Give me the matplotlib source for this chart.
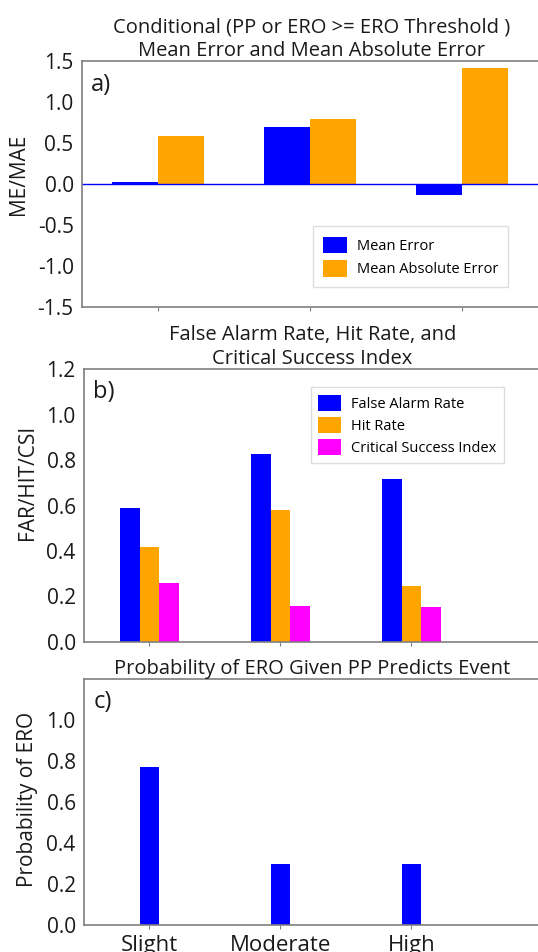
import matplotlib
matplotlib.use("Agg")
import matplotlib.pyplot as plt
import numpy as np

plt.rcParams['font.family'] = ['Open Sans', 'DejaVu Sans']

categories = ["Slight", "Moderate", "High"]

# panel a: conditional mean error / mean absolute error
mean_error = [0.02, 0.69, -0.14]
mean_abs_error = [0.59, 0.79, 1.41]

# panel b: contingency scores
false_alarm_rate = [0.59, 0.825, 0.717]
hit_rate = [0.418, 0.58, 0.248]
csi = [0.26, 0.157, 0.153]

# panel c: probability of ERO given PP predicts event
prob_ero = [0.771, 0.30, 0.30]

BLUE = "#0000FF"
ORANGE = "#FFA500"
MAGENTA = "#FF00FF"
SPINE = "#7f7f7f"
TEXT = "#1a1a1a"

W, H = 538, 952
fig = plt.figure(figsize=(W / 100, H / 100), dpi=100)


def px_axes(left, top, right, bottom):
    return fig.add_axes([left / W, 1 - bottom / H, (right - left) / W, (bottom - top) / H])


def style(ax):
    for s in ax.spines.values():
        s.set_color(SPINE)
        s.set_linewidth(1.2)
    ax.tick_params(axis='y', length=0, labelsize=15, pad=6, labelcolor=TEXT)
    ax.tick_params(axis='x', length=3, color=SPINE, labelsize=16, pad=4, labelcolor=TEXT)


def legend(ax, **kw):
    return ax.legend(fontsize=10.5, handlelength=1.6, handleheight=1.35,
                     frameon=True, fancybox=False, edgecolor="#dddddd",
                     framealpha=1, handletextpad=0.7, **kw)


x = np.arange(len(categories))

# ---- a) ----
ax1 = px_axes(82, 61, 541, 307)
ax1.bar(x - 0.15, mean_error, 0.3, color=BLUE, label="Mean Error")
ax1.bar(x + 0.15, mean_abs_error, 0.3, color=ORANGE, label="Mean Absolute Error")
ax1.axhline(0, color=BLUE, lw=1)
ax1.set_xlim(-0.5, 2.52)
ax1.set_ylim(-1.5, 1.5)
yt = np.arange(-1.5, 1.51, 0.5)
ax1.set_yticks(yt)
ax1.set_yticklabels([f"{v:.1f}" for v in yt])
ax1.set_xticks(x)
ax1.set_xticklabels([])
ax1.set_ylabel("ME/MAE", fontsize=15, color=TEXT)
ax1.yaxis.set_label_coords(-0.115, 0.54)
ax1.set_title("Conditional (PP or ERO >= ERO Threshold )\nMean Error and Mean Absolute Error",
              fontsize=14.5, pad=3, linespacing=1.2, color=TEXT)
ax1.text(0.02, 0.95, "a)", transform=ax1.transAxes, fontsize=17, va="top", color=TEXT)
style(ax1)
legend(ax1, loc="lower right", bbox_to_anchor=(0.945, 0.05), borderpad=0.7, labelspacing=0.45)

# ---- b) ----
ax2 = px_axes(84, 369, 541, 642)
ax2.bar(x - 0.15, false_alarm_rate, 0.15, color=BLUE, label="False Alarm Rate")
ax2.bar(x, hit_rate, 0.15, color=ORANGE, label="Hit Rate")
ax2.bar(x + 0.15, csi, 0.15, color=MAGENTA, label="Critical Success Index")
ax2.set_xlim(-0.5, 2.99)
ax2.set_ylim(0, 1.2)
yt = np.arange(0, 1.21, 0.2)
ax2.set_yticks(yt)
ax2.set_yticklabels([f"{v:.1f}" for v in yt])
ax2.set_xticks(x)
ax2.set_xticklabels([])
ax2.set_ylabel("FAR/HIT/CSI", fontsize=15, color=TEXT)
ax2.yaxis.set_label_coords(-0.1, 0.585)
ax2.set_title("False Alarm Rate, Hit Rate, and\nCritical Success Index",
              fontsize=14.5, pad=-5, linespacing=1.3, color=TEXT)
ax2.text(0.02, 0.96, "b)", transform=ax2.transAxes, fontsize=17, va="top", color=TEXT)
style(ax2)
legend(ax2, loc="upper right", bbox_to_anchor=(0.935, 0.96), borderpad=0.5, labelspacing=0.35)

# ---- c) ----
ax3 = px_axes(84, 679, 541, 925)
ax3.bar(x, prob_ero, 0.15, color=BLUE)
ax3.set_xlim(-0.5, 2.99)
ax3.set_ylim(0, 1.2)
yt = np.arange(0, 1.01, 0.2)
ax3.set_yticks(yt)
ax3.set_yticklabels([f"{v:.1f}" for v in yt])
ax3.set_xticks(x)
ax3.set_xticklabels(categories)
ax3.set_ylabel("Probability of ERO", fontsize=15, color=TEXT)
ax3.yaxis.set_label_coords(-0.1, 0.512)
ax3.set_title("Probability of ERO Given PP Predicts Event", fontsize=14.5, pad=1, color=TEXT)
ax3.text(0.02, 0.955, "c)", transform=ax3.transAxes, fontsize=17, va="top", color=TEXT)
style(ax3)

fig.savefig("out.png", dpi=100)
